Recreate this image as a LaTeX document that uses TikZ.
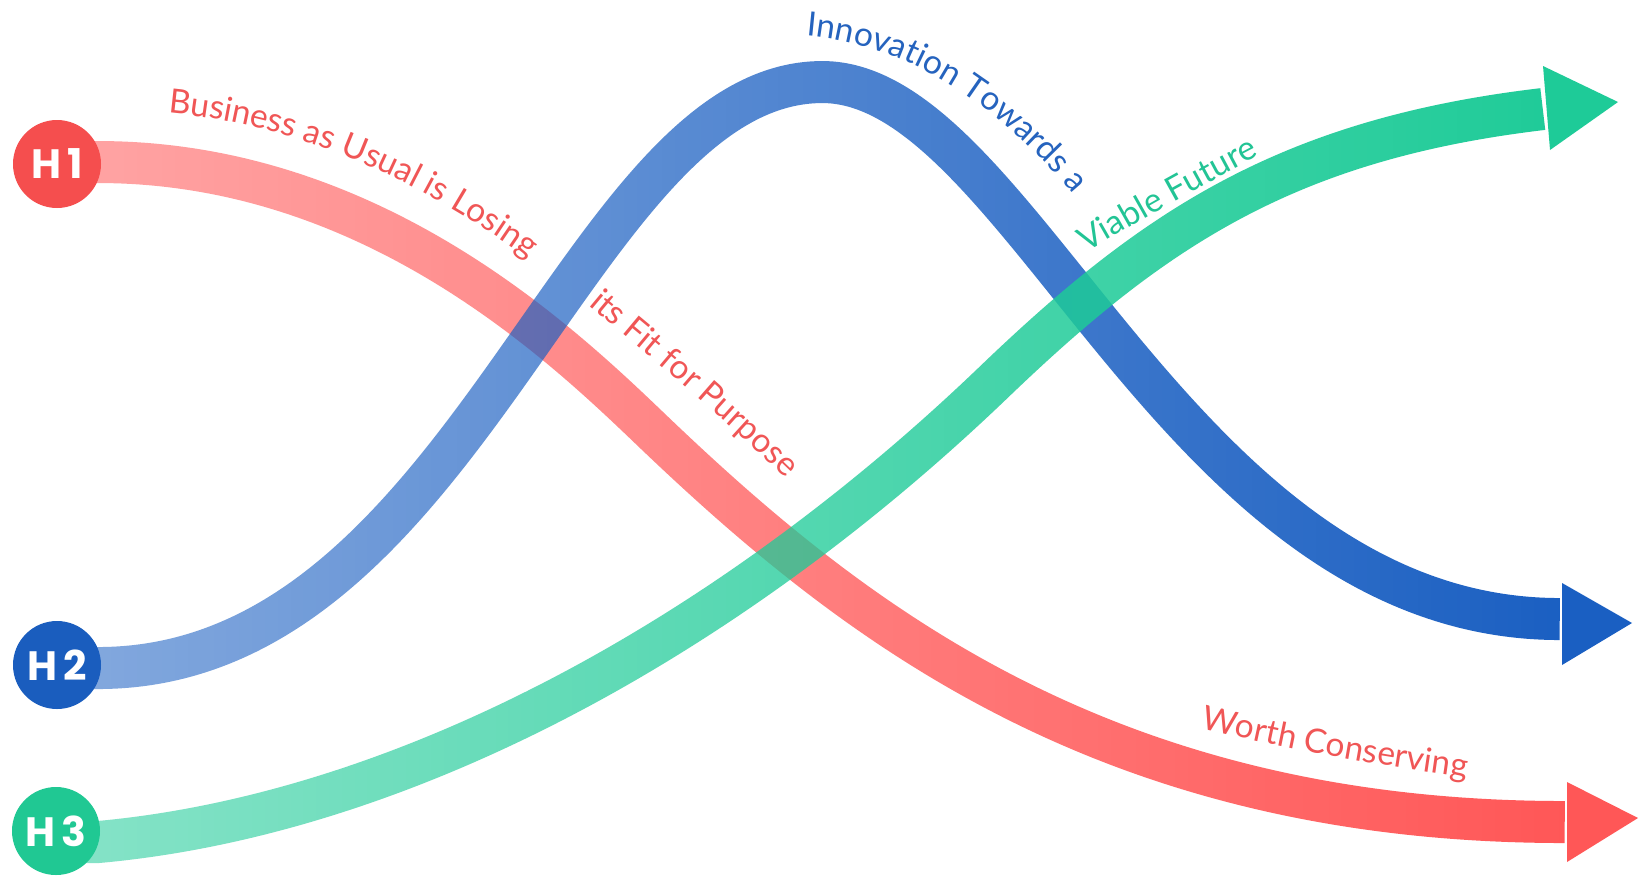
\documentclass[tikz,border=0pt]{standalone}
\usepackage{fontspec}
\usetikzlibrary{decorations.text,fadings}
\newfontfamily\latofont{Lato}
\newfontfamily\hfont{Poppins}
\definecolor{rdark}{HTML}{FF5757}
\definecolor{rcirc}{HTML}{F54E4E}
\definecolor{rtext}{HTML}{F05656}
\definecolor{bdark}{HTML}{1A5FC2}
\definecolor{bcirc}{HTML}{1A5DBE}
\definecolor{btext}{HTML}{2563BE}
\definecolor{gdark}{HTML}{1ECB98}
\definecolor{gcirc}{HTML}{20C893}
\definecolor{gtext}{HTML}{22C495}
\tikzfading[name=fadein, left color=transparent!47, right color=transparent!0]
\tikzset{
  band/.style={line width=42pt},
  hcirc/.style={circle, minimum size=88pt, inner sep=0pt, text=white, font=\hfont\bfseries\fontsize{41}{41}\selectfont},
  curvetext/.style={decorate, decoration={text along path, text align=left}},
}
\newcommand\redpathX{(r0) -- (r1) .. controls (380,162) and (573,352) .. (660,435) .. controls (863,628) and (1117,822) .. (r9)}
\newcommand\bluepathX{(b0) -- (b1) .. controls (470,668) and (580,82) .. (826,82) .. controls (1026,82) and (1182,619) .. (b9)}
\newcommand\greenpathX{(g0) -- (g1) .. controls (400,815) and (726,643) .. (1000,380) .. controls (1159,228) and (1293,139) .. (g9)}
\newcommand\labfont{\latofont\fontsize{33.5}{40}\selectfont}
\begin{document}
\begin{tikzpicture}[x=1pt,y=-1pt]
\useasboundingbox (0,0) rectangle (1640,876);
\fill[white] (0,0) rectangle (1640,876);
% key coordinates
\coordinate (r0) at (57,162);  \coordinate (r1) at (100,162);  \coordinate (r9) at (1570,822);
\coordinate (b0) at (57,668);  \coordinate (b1) at (100,668);  \coordinate (b9) at (1565,619);
\coordinate (g0) at (56,842);  \coordinate (g1) at (100,842);  \coordinate (g9) at (1548,109);
\coordinate (rA) at (1567,782); \coordinate (rT) at (1638,818); \coordinate (rB) at (1567,862);
\coordinate (bA) at (1562,583); \coordinate (bT) at (1632,623); \coordinate (bB) at (1562,665);
\coordinate (gA) at (1543,66);  \coordinate (gT) at (1618,102); \coordinate (gB) at (1550,150);
% red band
\begin{scope}
  \path[scope fading=fadein] (45,40) rectangle (1575,880);
  \draw[band, rdark] \redpathX;
\end{scope}
\fill[rdark] (rA) -- (rT) -- (rB) -- cycle;
% blue band
\begin{scope}
  \path[scope fading=fadein] (45,40) rectangle (1575,880);
  \draw[band, bdark] \bluepathX;
\end{scope}
\fill[bdark] (bA) -- (bT) -- (bB) -- cycle;
% green band
\begin{scope}
  \path[scope fading=fadein] (45,40) rectangle (1575,880);
  \draw[band, gdark] \greenpathX;
\end{scope}
\fill[gdark] (gA) -- (gT) -- (gB) -- cycle;
% texts
\path[curvetext, decoration={text={|\labfont\color{rtext}|Business as Usual is Losing}}]
  (168,113) .. controls (300,125) and (430,180) .. (570,290);
\path[curvetext, decoration={text={|\labfont\color{rtext}|its Fit for Purpose}}]
  (588,305) .. controls (660,365) and (740,430) .. (830,522);
\path[curvetext, decoration={text={|\labfont\color{rtext}|Worth Conserving}}]
  (1200,728) .. controls (1300,752) and (1400,770) .. (1510,783);
\path[curvetext, decoration={text={|\labfont\color{btext}|Innovation Towards a}}]
  (806,36) .. controls (900,44) and (1000,95) .. (1100,228);
\path[curvetext, decoration={text={|\labfont\color{gtext}|Viable Future}}]
  (1086,252) .. controls (1150,215) and (1220,175) .. (1310,130);
% circles
\node[hcirc, fill=rcirc] (h1) at (57,164) {H\hspace{6pt}1};
\node[hcirc, fill=bcirc] (h2) at (57,665) {H\hspace{6pt}2};
\node[hcirc, fill=gcirc] (h3) at (56,831) {H\hspace{6pt}3};
\end{tikzpicture}
\end{document}
